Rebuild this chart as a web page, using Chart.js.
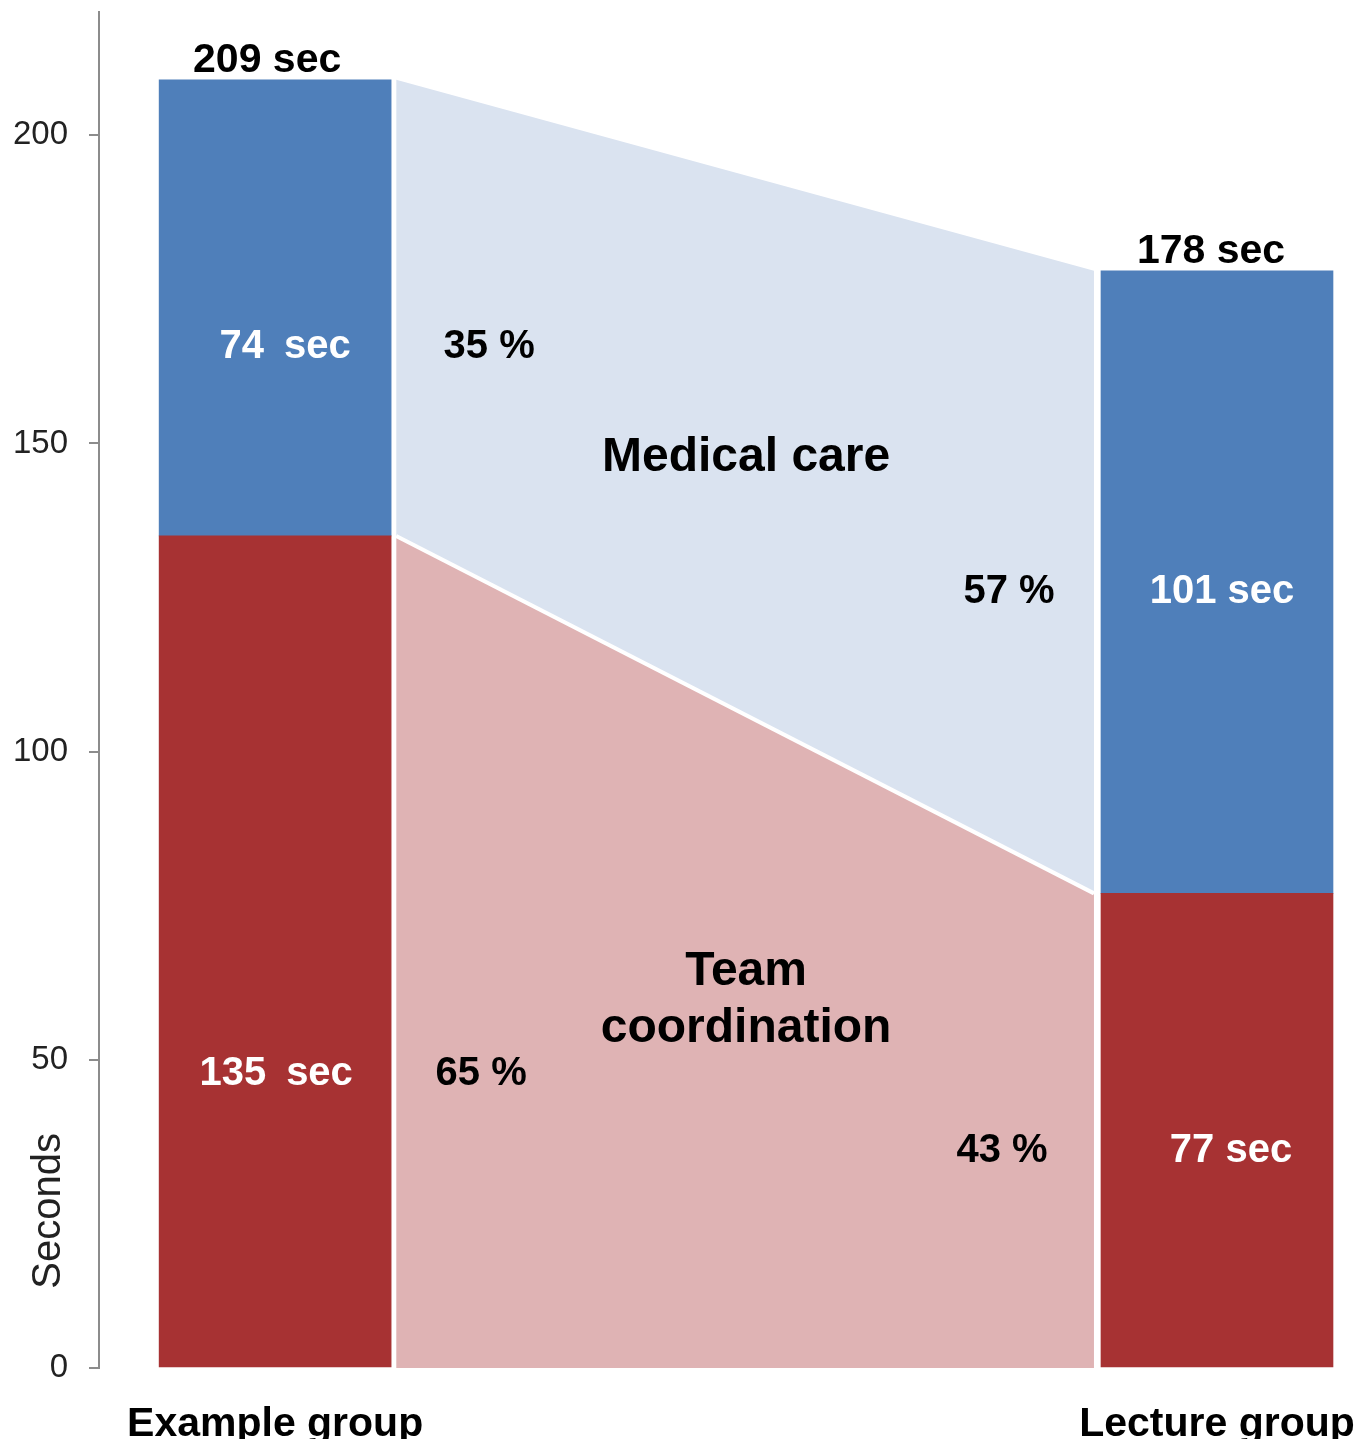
<!DOCTYPE html>
<html><head><meta charset="utf-8">
<script src="https://cdn.jsdelivr.net/npm/chart.js@4"></script>
<style>html,body{margin:0;padding:0;background:#fff}#wrap{width:1359px;height:1439px;position:relative}</style>
</head><body><div id="wrap"><canvas id="c"></canvas></div>
<script>
// ---- data ----
const groups = ['Example group', 'Lecture group'];
const teamSec = [135, 77];
const medicalSec = [74, 101];
const totalSec = [209, 178];
const medicalPct = [35, 57];
const teamPct = [65, 43];
const categories = ['Medical care', ['Team', 'coordination']];
const yTicks = [0, 50, 100, 150, 200];
const yTitle = 'Seconds';

// ---- layout (x in group units: 0 = first group, 1 = second group) ----
const groupPos = [0, 1];
const flowEdges = [0.1285, 0.8694];
const FONT = '"Liberation Sans", Arial, sans-serif';

const textPlugin = {
  id: 'annot',
  afterDatasetsDraw(chart) {
    const { ctx, scales: { x, y } } = chart;
    ctx.save();
    ctx.textAlign = 'center';
    ctx.textBaseline = 'middle';
    const draw = (t, px, py, size, color) => {
      ctx.font = `bold ${size}px ${FONT}`;
      ctx.fillStyle = color;
      ctx.fillText(t, px, py + 2);
    };
    const totDx = [-8, -6];
    const medY = [166, 126.3], medDx = [10, 5];
    const teamY = [48, 35.5], teamDx = [1, 14];
    const gap = ['\u2002', ' '];
    const pctX = [[0.2272, 0.2187], [0.7792, 0.7718]];
    groupPos.forEach((g, i) => {
      const cx = x.getPixelForValue(g);
      draw(totalSec[i] + ' sec', cx + totDx[i], y.getPixelForValue(totalSec[i]) - 21, 41, '#000');
      draw(medicalSec[i] + gap[i] + 'sec', cx + medDx[i], y.getPixelForValue(medY[i]), 40, '#fff');
      draw(teamSec[i] + gap[i] + 'sec', cx + teamDx[i], y.getPixelForValue(teamY[i]), 40, '#fff');
      draw(medicalPct[i] + ' %', x.getPixelForValue(pctX[i][0]), y.getPixelForValue(medY[i]), 40, '#000');
      draw(teamPct[i] + ' %', x.getPixelForValue(pctX[i][1]), y.getPixelForValue(teamY[i]), 40, '#000');
    });
    const mid = x.getPixelForValue(0.5);
    draw(categories[0], mid, y.getPixelForValue(148), 48, '#000');
    draw(categories[1][0], mid, y.getPixelForValue(64.6), 48, '#000');
    draw(categories[1][1], mid, y.getPixelForValue(55.3), 48, '#000');
    // y-axis title
    ctx.save();
    ctx.translate(49, y.getPixelForValue(25.5));
    ctx.rotate(-Math.PI / 2);
    ctx.font = `40px ${FONT}`;
    ctx.fillStyle = '#222';
    ctx.fillText(yTitle, 0, 0);
    ctx.restore();
    ctx.restore();
  }
};

new Chart(document.getElementById('c'), {
  type: 'bar',
  data: {
    datasets: [
      {
        type: 'line', label: 'Medical care flow',
        data: [{ x: flowEdges[0], y: totalSec[0] }, { x: flowEdges[1], y: totalSec[1] }],
        fill: '+1', backgroundColor: '#DAE3F0', borderWidth: 0, borderColor: 'rgba(0,0,0,0)',
        pointRadius: 0, order: 2
      },
      {
        type: 'line', label: 'Team coordination flow',
        data: [{ x: flowEdges[0], y: teamSec[0] }, { x: flowEdges[1], y: teamSec[1] }],
        fill: 'origin', backgroundColor: '#DFB3B4', borderColor: '#ffffff', borderWidth: 4,
        pointRadius: 0, order: 1
      },
      {
        type: 'bar', label: 'Team coordination',
        data: groupPos.map((g, i) => ({ x: g, y: [0, teamSec[i]] })),
        backgroundColor: '#A73233', barThickness: 232, grouped: false, order: 3
      },
      {
        type: 'bar', label: 'Medical care',
        data: groupPos.map((g, i) => ({ x: g, y: [teamSec[i], totalSec[i]] })),
        backgroundColor: '#4F7FBA', barThickness: 232, grouped: false, order: 3
      }
    ]
  },
  options: {
    responsive: true,
    maintainAspectRatio: false,
    animation: false,
    layout: { padding: { top: 12, right: 19, left: 0, bottom: 0 } },
    plugins: { legend: { display: false }, tooltip: { enabled: false } },
    scales: {
      x: {
        type: 'linear', min: -0.187, max: 1.1306, offset: false,
        grid: { display: false, drawTicks: false, offset: false },
        border: { display: false },
        afterBuildTicks: s => { s.ticks = groupPos.map(v => ({ value: v })); },
        ticks: {
          callback: (v, i) => groups[i],
          font: { family: FONT, size: 41, weight: 'bold' }, color: '#000',
          padding: 32, maxRotation: 0, autoSkip: false
        },
        afterFit: s => { s.height = 71; s.paddingLeft = 0; s.paddingRight = 0; }
      },
      y: {
        type: 'linear', min: 0, max: 220,
        afterBuildTicks: s => { s.ticks = yTicks.map(v => ({ value: v })); },
        grid: { drawOnChartArea: false, drawTicks: true, tickLength: 10, color: '#8c8c8c', lineWidth: 2 },
        border: { display: true, color: '#8c8c8c', width: 2 },
        ticks: { font: { family: FONT, size: 33 }, color: '#222', padding: 21 },
        title: { display: false },
        afterFit: s => { s.width = 99; s.paddingTop = 0; s.paddingBottom = 0; }
      }
    }
  },
  plugins: [textPlugin]
});
</script>
</body></html>
